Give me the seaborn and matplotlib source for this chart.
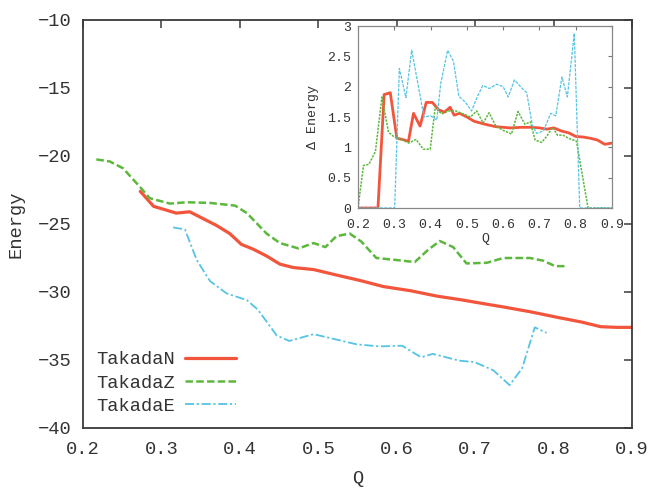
import matplotlib
matplotlib.use("Agg")
import matplotlib.pyplot as plt
import seaborn as sns
import numpy as np

# ---------------- data ----------------
main_n_q = [0.273, 0.290, 0.319, 0.336, 0.353, 0.370, 0.387, 0.402, 0.417, 0.434, 0.451, 0.468,
            0.494, 0.523, 0.553, 0.583, 0.617, 0.651, 0.685, 0.710, 0.736, 0.770, 0.808, 0.835,
            0.860, 0.880, 0.900]
main_n_e = [-22.6, -23.7, -24.2, -24.1, -24.6, -25.1, -25.7, -26.5, -26.85, -27.35, -27.95, -28.2,
            -28.35, -28.75, -29.15, -29.6, -29.9, -30.3, -30.6, -30.85, -31.1, -31.45, -31.9, -32.2,
            -32.55, -32.6, -32.6]

main_z_q = [0.217, 0.234, 0.251, 0.273, 0.285, 0.311, 0.332, 0.362, 0.394, 0.409, 0.434, 0.451,
            0.475, 0.494, 0.509, 0.523, 0.540, 0.555, 0.574, 0.600, 0.623, 0.640, 0.655, 0.672,
            0.689, 0.715, 0.736, 0.770, 0.787, 0.802, 0.815]
main_z_e = [-20.25, -20.4, -20.9, -22.3, -23.1, -23.5, -23.4, -23.45, -23.65, -24.2, -25.7, -26.4,
            -26.8, -26.4, -26.7, -25.9, -25.7, -26.3, -27.5, -27.65, -27.8, -26.9, -26.25, -26.7,
            -27.9, -27.85, -27.5, -27.5, -27.7, -28.1, -28.1]

main_e_q = [0.315, 0.330, 0.345, 0.362, 0.383, 0.409, 0.423, 0.447, 0.463, 0.494, 0.549, 0.578,
            0.607, 0.631, 0.646, 0.680, 0.699, 0.723, 0.744, 0.760, 0.776, 0.791]
main_e_e = [-25.25, -25.4, -27.65, -29.2, -30.1, -30.6, -31.3, -33.2, -33.6, -33.1, -33.85, -34.0,
            -33.95, -34.8, -34.55, -35.05, -35.15, -35.75, -36.85, -35.6, -32.6, -33.0]

ins_n_q = [0.20, 0.255, 0.272, 0.289, 0.307, 0.322, 0.339, 0.353, 0.371, 0.388, 0.405, 0.422,
           0.438, 0.454, 0.465, 0.48, 0.50, 0.52, 0.55, 0.58, 0.62, 0.65, 0.68, 0.70, 0.72, 0.74,
           0.76, 0.78, 0.80, 0.82, 0.84, 0.86, 0.88, 0.90]
ins_n_d = [0, 0, 1.87, 1.90, 1.15, 1.13, 1.10, 1.56, 1.35, 1.74, 1.74, 1.62,
           1.58, 1.66, 1.53, 1.56, 1.50, 1.43, 1.38, 1.34, 1.32, 1.33, 1.33, 1.32, 1.30, 1.32,
           1.27, 1.24, 1.18, 1.17, 1.15, 1.12, 1.05, 1.07]

ins_z_q = [0.20, 0.215, 0.23, 0.248, 0.266, 0.284, 0.30, 0.32, 0.34, 0.36, 0.38, 0.399, 0.413,
           0.43, 0.45, 0.47, 0.49, 0.51, 0.527, 0.545, 0.561, 0.58, 0.60, 0.623, 0.641, 0.66,
           0.675, 0.688, 0.706, 0.72, 0.736, 0.75, 0.765, 0.78, 0.802, 0.834, 0.90]
ins_z_d = [0, 0.70, 0.72, 0.93, 1.83, 1.25, 1.17, 1.13, 1.07, 1.13, 0.97, 0.97, 1.67,
           1.55, 1.6, 1.6, 1.55, 1.5, 1.6, 1.4, 1.57, 1.35, 1.28, 1.22, 1.59, 1.38,
           1.42, 1.12, 1.08, 1.18, 1.33, 1.2, 1.2, 1.15, 1.1, 0, 0]

ins_e_q = [0.20, 0.301, 0.314, 0.332, 0.348, 0.365, 0.382, 0.40, 0.417, 0.428, 0.447, 0.463,
           0.478, 0.495, 0.513, 0.53, 0.544, 0.562, 0.582, 0.60, 0.614, 0.631, 0.648, 0.665,
           0.68, 0.692, 0.711, 0.731, 0.745, 0.762, 0.777, 0.796, 0.811, 0.90]
ins_e_d = [0, 0, 2.3, 1.82, 2.6, 2.05, 1.5, 1.52, 1.45, 2.05, 2.6, 2.42,
           1.84, 1.75, 1.6, 1.85, 2.02, 1.97, 2.04, 2.0, 1.83, 2.11, 2.0, 1.9,
           1.38, 1.23, 1.27, 1.56, 1.52, 2.16, 1.83, 2.88, 0, 0]

series_names = ["TakadaN", "TakadaZ", "TakadaE"]
main_xticks = [0.2, 0.3, 0.4, 0.5, 0.6, 0.7, 0.8, 0.9]
main_yticks = [-40, -35, -30, -25, -20, -15, -10]
ins_xticks = [0.2, 0.3, 0.4, 0.5, 0.6, 0.7, 0.8, 0.9]
ins_yticks = [0, 0.5, 1, 1.5, 2, 2.5, 3]

# ---------------- style ----------------
sns.set_style("white")
plt.rcParams['font.family'] = ['Liberation Mono', 'DejaVu Sans Mono', 'DejaVu Sans']

RED = "#f2553c"
GREEN = "#5cb83c"
BLUE = "#55c3e4"
FRAME = "#3a3a3a"
TXT = "#333333"

fig = plt.figure(figsize=(6.56, 4.91), dpi=100)
ax = fig.add_axes([83/656, 1-428/491, (632-83)/656, (428-20)/491])

sns.lineplot(x=main_n_q, y=main_n_e, ax=ax, color=RED, lw=2.3, sort=False, estimator=None,
             label=series_names[0])
sns.lineplot(x=main_z_q, y=main_z_e, ax=ax, color=GREEN, lw=1.8, sort=False, estimator=None,
             label=series_names[1])
sns.lineplot(x=main_e_q, y=main_e_e, ax=ax, color=BLUE, lw=1.3, sort=False, estimator=None,
             label=series_names[2])
ax.lines[1].set_dashes([3, 1.3])
ax.lines[2].set_dashes([5, 1.5, 1.2, 1.5])

ax.set_xlim(0.2, 0.9)
ax.set_ylim(-40, -10)
ax.set_xticks(main_xticks)
ax.set_yticks(main_yticks)
ax.set_xticklabels([f"{v:g}" for v in main_xticks])
ax.set_yticklabels([f"{v:g}".replace("-", "\u2212") for v in main_yticks])
ax.tick_params(direction='in', top=True, right=True, length=6, width=1.1, color=FRAME,
               labelsize=13.5, labelcolor=TXT)
ax.tick_params(axis='x', pad=9)
ax.tick_params(axis='y', pad=8)
for s in ax.spines.values():
    s.set_color(FRAME)
    s.set_linewidth(1.3)
ax.set_xlabel("Q", fontsize=13.5, color=TXT, labelpad=9)
ax.set_ylabel("Energy", fontsize=13.5, color=TXT, labelpad=10)

leg = ax.legend(loc='upper left', bbox_to_anchor=(0.0, 0.22), frameon=False,
                markerfirst=False, fontsize=13.5, handlelength=2.7, handletextpad=0.55,
                labelspacing=0.32, borderpad=0.2)
for t in leg.get_texts():
    t.set_color(TXT)

# ---------------- inset ----------------
ins = fig.add_axes([358/656, 1-208/491, (612-358)/656, (208-26)/491])
sns.lineplot(x=ins_n_q, y=ins_n_d, ax=ins, color=RED, lw=2.0, sort=False, estimator=None)
sns.lineplot(x=ins_z_q, y=ins_z_d, ax=ins, color=GREEN, lw=1.1, sort=False, estimator=None)
sns.lineplot(x=ins_e_q, y=ins_e_d, ax=ins, color=BLUE, lw=0.9, sort=False, estimator=None)
ins.lines[1].set_dashes([1.5, 0.8])
ins.lines[2].set_dashes([2.5, 1])
ins.set_xlim(0.2, 0.9)
ins.set_ylim(0, 3)
ins.set_xticks(ins_xticks)
ins.set_yticks(ins_yticks)
ins.set_xticklabels([f"{v:g}" for v in ins_xticks])
ins.set_yticklabels([f"{v:g}" for v in ins_yticks])
ins.tick_params(direction='in', top=True, right=True, length=3, width=0.8, color="#777777",
                labelsize=9.5, labelcolor=TXT, pad=5)
ins.tick_params(axis='x', pad=8)
for s in ins.spines.values():
    s.set_color("#888888")
    s.set_linewidth(0.9)
ins.set_xlabel("Q", fontsize=9.5, color=TXT, labelpad=1)
ins.set_ylabel("\u0394 Energy", fontsize=9.5, color=TXT, labelpad=6)
if ins.get_legend() is not None:
    ins.get_legend().remove()

fig.savefig("out.png", dpi=100, facecolor="white")
